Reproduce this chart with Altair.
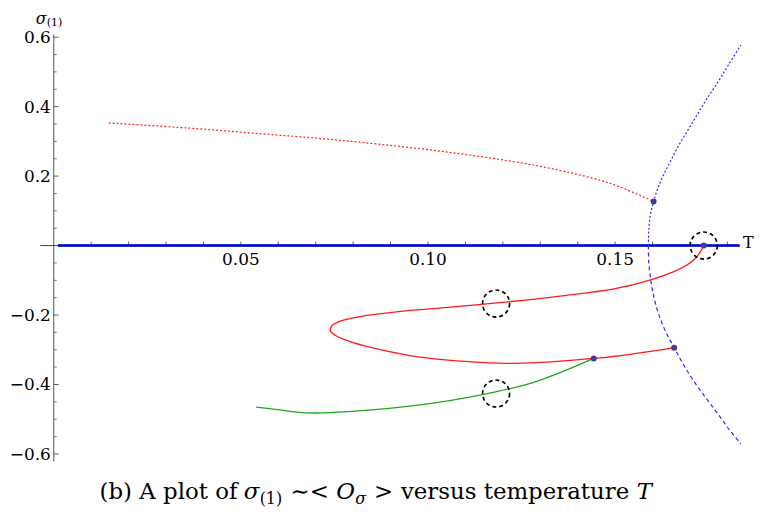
import altair as alt
import pandas as pd

SERIF = "DejaVu Serif"

# ---------------- data ----------------
# upper red dotted branch
RED_DOT_T = [0.0147, 0.0363, 0.0541, 0.0716, 0.0868, 0.1046, 0.1221, 0.1354, 0.1487, 0.1603]
RED_DOT_S = [0.353, 0.338, 0.323, 0.308, 0.292, 0.270, 0.243, 0.216, 0.179, 0.127]

# red solid loop
RED_T = [0.1737, 0.1728, 0.1714, 0.1692, 0.1657, 0.1595, 0.1497, 0.1364, 0.1222, 0.1054,
         0.0921, 0.0832, 0.0770, 0.0744, 0.0739, 0.0753, 0.0788, 0.0850, 0.0948, 0.1054,
         0.1152, 0.1231, 0.1329, 0.1443, 0.1542, 0.1658]
RED_S = [0.000, -0.018, -0.037, -0.056, -0.075, -0.099, -0.125, -0.144, -0.161, -0.178,
         -0.190, -0.202, -0.216, -0.230, -0.244, -0.259, -0.275, -0.294, -0.316, -0.330,
         -0.337, -0.339, -0.335, -0.325, -0.313, -0.294]

# green solid branch
GREEN_T = [0.1443, 0.1364, 0.1276, 0.1181, 0.1054, 0.0921, 0.0788, 0.0699, 0.0655, 0.0602, 0.0541]
GREEN_S = [-0.325, -0.361, -0.396, -0.421, -0.447, -0.466, -0.478, -0.482, -0.480, -0.473, -0.465]

# blue curve: upper (dotted) and lower (dashed)
BLUE_UP_T = [0.1589, 0.1590, 0.1594, 0.1603, 0.1615, 0.1631, 0.1650, 0.1671, 0.1695,
             0.1719, 0.1745, 0.1775, 0.1804, 0.1836]
BLUE_UP_S = [0.000, 0.044, 0.087, 0.127, 0.167, 0.207, 0.247, 0.290, 0.333,
             0.376, 0.422, 0.471, 0.522, 0.577]
BLUE_LO_T = [0.1589, 0.1590, 0.1595, 0.1603, 0.1615, 0.1634, 0.1658, 0.1684, 0.1714,
             0.1745, 0.1777, 0.1806, 0.1836]
BLUE_LO_S = [0.000, -0.047, -0.096, -0.145, -0.193, -0.245, -0.294, -0.345, -0.396,
             -0.442, -0.488, -0.531, -0.571]

# trivial solution sigma = 0
ZERO_T = [0.0011, 0.1833]

# marked points
PT_T = [0.1603, 0.1737, 0.1443, 0.1658]
PT_S = [0.127, 0.000, -0.325, -0.294]

# dashed circles
CIRC_T = [0.1737, 0.1182, 0.1182]
CIRC_S = [0.000, -0.167, -0.426]

# axes / ticks
X_AXIS = [-0.0036, 0.1833]
Y_AXIS = [-0.622, 0.608]
X_MAJOR = [0.05, 0.10, 0.15]
X_LABELS = ["0.05", "0.10", "0.15"]
X_MINOR = [0.01, 0.02, 0.03, 0.04, 0.06, 0.07, 0.08, 0.09, 0.11, 0.12, 0.13, 0.14,
           0.16, 0.17, 0.18]
Y_MAJOR = [-0.6, -0.4, -0.2, 0.2, 0.4, 0.6]
Y_LABELS = ["\u22120.6", "\u22120.4", "\u22120.2", "0.2", "0.4", "0.6"]
Y_MINOR = [-0.55, -0.5, -0.45, -0.35, -0.3, -0.25, -0.15, -0.1, -0.05,
           0.05, 0.1, 0.15, 0.25, 0.3, 0.35, 0.45, 0.5, 0.55]

# ---------------- scales ----------------
XS = alt.Scale(domain=[0, 0.185], nice=False, zero=False)
YS = alt.Scale(domain=[-0.62, 0.62], nice=False, zero=False)
W, H = 696, 433


def X(f):
    return alt.X(f, scale=XS, axis=None)


def Y(f):
    return alt.Y(f, scale=YS, axis=None)


def curve(T, S, color, dash=None, width=1.2):
    df = pd.DataFrame({"T": T, "s": S, "i": list(range(len(T)))})
    kw = dict(color=color, strokeWidth=width, interpolate="catmull-rom")
    if dash:
        kw["strokeDash"] = dash
    return alt.Chart(df).mark_line(**kw).encode(x=X("T:Q"), y=Y("s:Q"), order="i:Q")


def hrule(x0, x1, yv, color, width, opacity=1.0):
    df = pd.DataFrame({"a": [x0], "b": [x1], "y": [yv]})
    return alt.Chart(df).mark_rule(color=color, strokeWidth=width, opacity=opacity).encode(
        x=X("a:Q"), x2="b:Q", y=Y("y:Q"))


def label(text, px, py, size, italic=False, align="left", color="black"):
    kw = dict(text=text, font=SERIF, fontSize=size, align=align,
              baseline="alphabetic", color=color)
    if italic:
        kw["fontStyle"] = "italic"
    return alt.Chart(pd.DataFrame({"a": [0]})).mark_text(**kw).encode(
        x=alt.value(px), y=alt.value(py))


layers = []

# y axis
yax = pd.DataFrame({"x": [0.0], "a": [Y_AXIS[0]], "b": [Y_AXIS[1]]})
layers.append(alt.Chart(yax).mark_rule(color="#555555", strokeWidth=1).encode(
    x=X("x:Q"), y=Y("a:Q"), y2="b:Q"))

# thick blue sigma=0 line, then the black axis on top
layers.append(hrule(ZERO_T[0], ZERO_T[1], 0.0, "#3434e0", 3))
layers.append(hrule(X_AXIS[0], X_AXIS[1], 0.0, "#000000", 1, 0.75))

# ticks
xt = pd.DataFrame({"v": X_MAJOR + X_MINOR, "z": [0.0] * (len(X_MAJOR) + len(X_MINOR))})
layers.append(alt.Chart(xt).mark_tick(orient="vertical", size=4, thickness=1,
                                       yOffset=-2, color="#222222").encode(
    x=X("v:Q"), y=Y("z:Q")))
ytM = pd.DataFrame({"v": Y_MAJOR, "z": [0.0] * len(Y_MAJOR)})
layers.append(alt.Chart(ytM).mark_tick(orient="horizontal", size=5, thickness=1,
                                        xOffset=2.5, color="#222222").encode(
    x=X("z:Q"), y=Y("v:Q")))
ytm = pd.DataFrame({"v": Y_MINOR, "z": [0.0] * len(Y_MINOR)})
layers.append(alt.Chart(ytm).mark_tick(orient="horizontal", size=3, thickness=1,
                                        xOffset=1.5, color="#444444").encode(
    x=X("z:Q"), y=Y("v:Q")))

# tick labels
xl = pd.DataFrame({"v": X_MAJOR, "t": X_LABELS, "z": [0.0] * len(X_MAJOR)})
layers.append(alt.Chart(xl).mark_text(font=SERIF, fontSize=17, align="center",
                                       baseline="alphabetic", dy=19.5, color="black").encode(
    x=X("v:Q"), y=Y("z:Q"), text="t:N"))
yl = pd.DataFrame({"v": Y_MAJOR, "t": Y_LABELS, "z": [0.0] * len(Y_MAJOR)})
layers.append(alt.Chart(yl).mark_text(font=SERIF, fontSize=17, align="right",
                                       baseline="middle", dx=-3, dy=1, color="black").encode(
    x=X("z:Q"), y=Y("v:Q"), text="t:N"))

# curves
layers.append(curve(RED_DOT_T, RED_DOT_S, "#ff2020", dash=[2, 2], width=1.2))
layers.append(curve(BLUE_UP_T, BLUE_UP_S, "#2a2aff", dash=[2, 2], width=1.2))
layers.append(curve(BLUE_LO_T, BLUE_LO_S, "#2a2aff", dash=[4, 3], width=1.2))
layers.append(curve(RED_T, RED_S, "#ff1a1a", width=1.3))
layers.append(curve(GREEN_T, GREEN_S, "#1fa51f", width=1.3))

# circles and points
cdf = pd.DataFrame({"T": CIRC_T, "s": CIRC_S})
layers.append(alt.Chart(cdf).mark_point(shape="circle", size=740, filled=False,
                                         stroke="black", strokeWidth=1.6,
                                         strokeDash=[4, 3], opacity=1).encode(
    x=X("T:Q"), y=Y("s:Q")))
pdf = pd.DataFrame({"T": PT_T, "s": PT_S})
layers.append(alt.Chart(pdf).mark_circle(size=36, color="#3d3d99", opacity=1).encode(
    x=X("T:Q"), y=Y("s:Q")))

# axis titles
layers.append(label("\u03c3", -18, -5.8, 16, italic=True))
layers.append(label("(1)", -7, -4.5, 11))
layers.append(label("T", 693, 219, 16))

# caption (pieces; plot x = page x - 54)
CY, CYS = 471, 476
layers.append(label("(b) A plot of", 46, CY, 23))
layers.append(label("\u03c3", 191, CY, 23, italic=True))
layers.append(label("(1)", 207, CYS, 16))
layers.append(label("\u223c<", 238, CY, 23))
layers.append(label("O", 284, CY, 23, italic=True))
layers.append(label("\u03c3", 303, CYS, 16, italic=True))
layers.append(label(">", 322, CY, 23))
layers.append(label("versus temperature", 349, CY, 23))
layers.append(label("T", 586, CY, 23, italic=True))

chart = alt.layer(*layers).properties(
    width=W, height=H,
    autosize=alt.AutoSizeParams(type="none"),
    padding={"left": 46, "top": 21, "right": 10, "bottom": 48},
    background="white",
).configure_view(stroke=None)

chart.save("out.html", embed_options={"renderer": "svg", "actions": False})
